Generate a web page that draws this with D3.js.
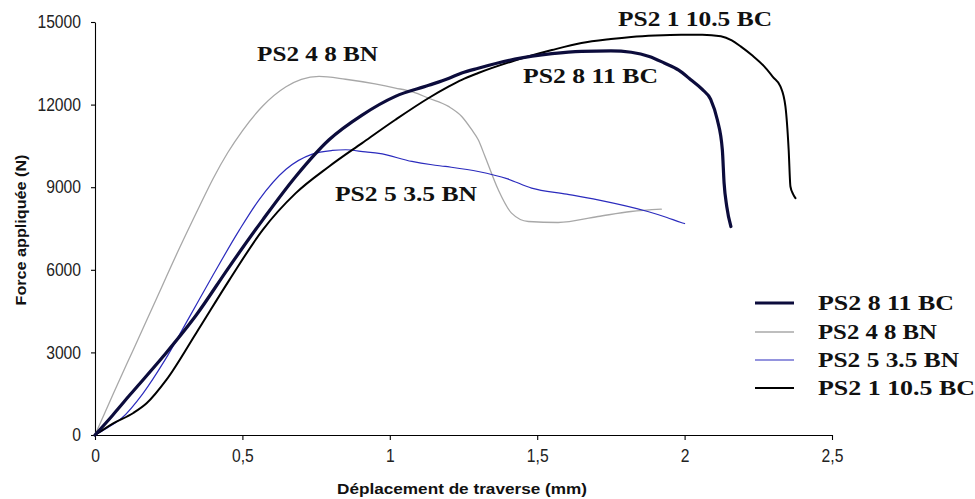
<!DOCTYPE html>
<html>
<head>
<meta charset="utf-8">
<script src="https://cdn.jsdelivr.net/npm/d3@7"></script>
<style>
  html, body { margin: 0; padding: 0; background: #fff; }
  svg { display: block; }
</style>
</head>
<body>
<svg id="chart" width="975" height="499"></svg>
<script>
// ---------- DATA ----------
const seriesNames = ["PS2 8 11 BC", "PS2 4 8 BN", "PS2 5 3.5 BN", "PS2 1 10.5 BC"];

// PS2 8 11 BC (thick)
const s811_x = [0, 0.06, 0.118, 0.231, 0.343, 0.456, 0.569, 0.681, 0.794, 0.906, 1.019, 1.132, 1.199, 1.244, 1.30, 1.424, 1.55, 1.65, 1.75, 1.819, 1.88, 1.931, 1.98, 2.021, 2.06, 2.089, 2.111, 2.128, 2.134, 2.143, 2.157];
const s811_y = [0, 720, 1450, 2850, 4350, 6118, 7815, 9390, 10723, 11620, 12300, 12700, 12950, 13146, 13320, 13650, 13850, 13934, 13950, 13900, 13750, 13510, 13250, 12904, 12550, 12177, 11450, 10360, 9148, 8299, 7572];

// PS2 4 8 BN (gray)
const s48_x = [0, 0.062, 0.13, 0.2, 0.287, 0.354, 0.40, 0.45, 0.50, 0.569, 0.648, 0.70, 0.76, 0.85, 0.95, 1.019, 1.08, 1.13, 1.199, 1.244, 1.278, 1.30, 1.323, 1.368, 1.413, 1.47, 1.571, 1.706, 1.818, 1.921];
const s48_y = [0, 1500, 3100, 4750, 6800, 8300, 9300, 10250, 11050, 11950, 12650, 12920, 13025, 12920, 12750, 12602, 12450, 12240, 11934, 11570, 11087, 10723, 10116, 8906, 8059, 7754, 7718, 7936, 8117, 8204];

// PS2 5 3.5 BN (blue)
const s535_x = [0, 0.04, 0.09, 0.163, 0.236, 0.321, 0.40, 0.49, 0.557, 0.648, 0.737, 0.805, 0.85, 0.918, 0.963, 1.075, 1.143, 1.188, 1.30, 1.40, 1.481, 1.6, 1.706, 1.875, 1.94, 1.988, 2.0];
const s535_y = [0, 250, 607, 1515, 2700, 4300, 5800, 7450, 8550, 9650, 10200, 10334, 10360, 10280, 10230, 9935, 9815, 9753, 9571, 9300, 8967, 8750, 8542, 8117, 7900, 7718, 7680];

// PS2 1 10.5 BC (black)
const s105_x = [0, 0.062, 0.13, 0.175, 0.242, 0.343, 0.456, 0.569, 0.681, 0.794, 0.906, 1.019, 1.132, 1.199, 1.244, 1.30, 1.424, 1.55, 1.65, 1.75, 1.819, 1.9, 1.988, 2.06, 2.123, 2.16, 2.19, 2.23, 2.27, 2.30, 2.325, 2.342, 2.353, 2.359, 2.368, 2.376];
const s105_y = [0, 425, 800, 1152, 2000, 3697, 5634, 7452, 8785, 9753, 10603, 11450, 12240, 12650, 12900, 13146, 13600, 13980, 14237, 14380, 14455, 14510, 14540, 14540, 14480, 14330, 14115, 13780, 13388, 13000, 12661, 11934, 10360, 9026, 8750, 8604];

const xTicks = [0, 0.5, 1, 1.5, 2, 2.5];
const yTicks = [0, 3000, 6000, 9000, 12000, 15000];
const xTitle = "Déplacement de traverse (mm)";
const yTitle = "Force appliquée (N)";

// ---------- LAYOUT / STYLE ----------
const styles = [
  { color: "#0c0c3c", width: 3.2 },
  { color: "#a8a8a8", width: 1.3 },
  { color: "#2b2bbd", width: 1.2 },
  { color: "#000000", width: 2.0 }
];
const seriesX = [s811_x, s48_x, s535_x, s105_x];
const seriesY = [s811_y, s48_y, s535_y, s105_y];

// annotation placements (pixel left/baseline, target width)
const annot = [
  { px: 523, py: 83, w: 135 },
  { px: 257, py: 61, w: 121 },
  { px: 335, py: 201, w: 142 },
  { px: 618, py: 26, w: 154 }
];
const legendRows = [303, 332, 360, 388];
const legendW = [136, 119, 141, 157];

const svg = d3.select("#chart");
svg.append("rect").attr("width", 975).attr("height", 499).attr("fill", "#fff");

const x = d3.scaleLinear().domain([0, 2.5]).range([95, 832]);
const y = d3.scaleLinear().domain([0, 15000]).range([435, 22]);

const fmt = d => String(d).replace(".", ",");

// X axis
const gx = svg.append("g").attr("transform", `translate(0,${y(0)})`)
  .call(d3.axisBottom(x).tickValues(xTicks).tickFormat(fmt).tickSizeOuter(0).tickSizeInner(5).tickPadding(9));
// Y axis
const gy = svg.append("g").attr("transform", `translate(${x(0)},0)`)
  .call(d3.axisLeft(y).tickValues(yTicks).tickFormat(d3.format("d")).tickSizeOuter(0).tickSizeInner(4).tickPadding(10));

[gx, gy].forEach(g => {
  g.select(".domain").attr("stroke", "#000").attr("stroke-width", 1.1);
  g.selectAll(".tick line").attr("stroke", "#000").attr("stroke-width", 1.1);
  g.selectAll(".tick text")
    .attr("fill", "#222")
    .style("font-family", "'Liberation Sans', Arial, sans-serif")
    .style("font-size", "18px");
});
gx.selectAll(".tick text").attr("dy", "0.71em");
// condense tick labels horizontally
[gx, gy].forEach(g => {
  g.selectAll(".tick text").each(function () {
    const L = this.getComputedTextLength();
    d3.select(this).attr("textLength", L * 0.87).attr("lengthAdjust", "spacingAndGlyphs");
  });
});

// axis titles
svg.append("text")
  .attr("x", 462).attr("y", 494)
  .attr("text-anchor", "middle")
  .style("font-family", "'Liberation Sans', Arial, sans-serif")
  .style("font-weight", "bold").style("font-size", "15px")
  .attr("fill", "#111")
  .attr("textLength", 250).attr("lengthAdjust", "spacingAndGlyphs")
  .text(xTitle);

svg.append("text")
  .attr("transform", "translate(26,230) rotate(-90)")
  .attr("text-anchor", "middle")
  .style("font-family", "'Liberation Sans', Arial, sans-serif")
  .style("font-weight", "bold").style("font-size", "15px")
  .attr("fill", "#111")
  .attr("textLength", 151).attr("lengthAdjust", "spacingAndGlyphs")
  .text(yTitle);

// curves
const line = d3.line().x(d => x(d[0])).y(d => y(d[1])).curve(d3.curveMonotoneX);
// draw order: gray, blue, thin black, thick
[1, 2, 3, 0].forEach(i => {
  const pts = seriesX[i].map((v, k) => [v, seriesY[i][k]]);
  svg.append("path")
    .attr("d", line(pts))
    .attr("fill", "none")
    .attr("stroke", styles[i].color)
    .attr("stroke-width", styles[i].width)
    .attr("stroke-linejoin", "round")
    .attr("stroke-linecap", "round");
});

// annotations
const serif = "'Liberation Serif', 'Times New Roman', serif";
seriesNames.forEach((name, i) => {
  svg.append("text")
    .attr("x", annot[i].px).attr("y", annot[i].py)
    .style("font-family", serif).style("font-weight", "bold").style("font-size", "20px")
    .attr("fill", "#111")
    .attr("textLength", annot[i].w).attr("lengthAdjust", "spacingAndGlyphs")
    .text(name);
});

// legend
seriesNames.forEach((name, i) => {
  const cy = legendRows[i];
  svg.append("line")
    .attr("x1", 755).attr("x2", 794).attr("y1", cy).attr("y2", cy)
    .attr("stroke", styles[i].color).attr("stroke-width", styles[i].width);
  svg.append("text")
    .attr("x", 818).attr("y", cy + 7)
    .style("font-family", serif).style("font-weight", "bold").style("font-size", "20px")
    .attr("fill", "#111")
    .attr("textLength", legendW[i]).attr("lengthAdjust", "spacingAndGlyphs")
    .text(name);
});
</script>
</body>
</html>
